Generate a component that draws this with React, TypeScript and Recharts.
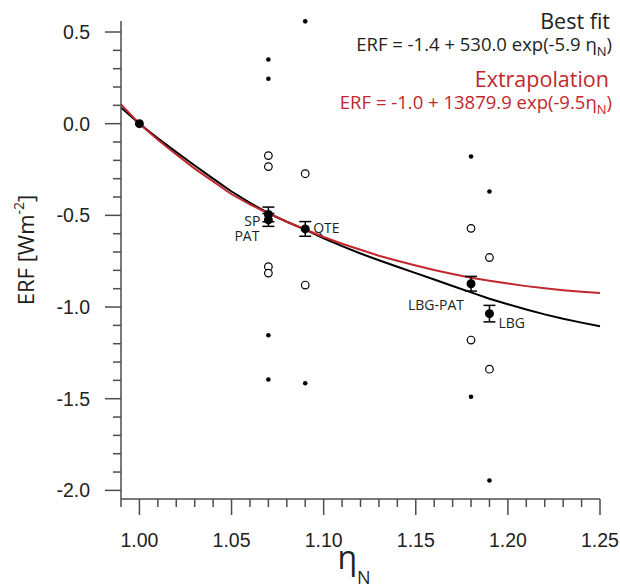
import React from "react";
import { ComposedChart, Line, Scatter, XAxis, YAxis, ErrorBar, Label } from "recharts";

// eta_N sample positions for the two fitted curves (also used as x ticks)
const etaGrid = [
  0.99, 1.0, 1.01, 1.02, 1.03, 1.04, 1.05, 1.06, 1.07, 1.08, 1.09, 1.1, 1.11, 1.12,
  1.13, 1.14, 1.15, 1.16, 1.17, 1.18, 1.19, 1.2, 1.21, 1.22, 1.23, 1.24, 1.25,
];
const bestFitErf = [
  0.088, 0.0, -0.08, -0.155, -0.228, -0.3, -0.37, -0.432, -0.488, -0.535, -0.578,
  -0.625, -0.668, -0.708, -0.745, -0.78, -0.815, -0.85, -0.885, -0.92, -0.955,
  -0.985, -1.013, -1.04, -1.064, -1.085, -1.105,
];
const extrapolationErf = [
  0.105, 0.0, -0.088, -0.168, -0.245, -0.315, -0.385, -0.44, -0.49, -0.535, -0.577,
  -0.618, -0.655, -0.688, -0.72, -0.748, -0.774, -0.798, -0.82, -0.84, -0.857,
  -0.872, -0.886, -0.898, -0.908, -0.917, -0.924,
];

// experiment means with error bars
const meanLabels = ["", "SP", "PAT", "QTE", "LBG-PAT", "LBG"];
const meanEta = [1.0, 1.07, 1.07, 1.09, 1.18, 1.19];
const meanErf = [0.0, -0.495, -0.525, -0.574, -0.873, -1.036];
const meanErr = [0, 0.04, 0.035, 0.04, 0.04, 0.045];

// open circles
const openEta = [1.07, 1.07, 1.07, 1.07, 1.09, 1.09, 1.18, 1.18, 1.19, 1.19];
const openErf = [-0.174, -0.234, -0.78, -0.815, -0.273, -0.88, -0.571, -1.18, -0.73, -1.339];

// small dots
const dotEta = [1.07, 1.07, 1.07, 1.07, 1.09, 1.09, 1.18, 1.18, 1.19, 1.19];
const dotErf = [0.35, 0.245, -1.154, -1.395, 0.558, -1.416, -0.179, -1.489, -0.37, -1.946];

const yTicks = [
  -2.0, -1.9, -1.8, -1.7, -1.6, -1.5, -1.4, -1.3, -1.2, -1.1, -1.0, -0.9, -0.8, -0.7,
  -0.6, -0.5, -0.4, -0.3, -0.2, -0.1, 0.0, 0.1, 0.2, 0.3, 0.4, 0.5,
];

const bestFit = etaGrid.map((x, i) => ({ x, y: bestFitErf[i] }));
const extrapolation = etaGrid.map((x, i) => ({ x, y: extrapolationErf[i] }));
const means = meanEta.map((x, i) => ({ x, y: meanErf[i], err: meanErr[i], name: meanLabels[i] }));
const openPts = openEta.map((x, i) => ({ x, y: openErf[i] }));
const dotPts = dotEta.map((x, i) => ({ x, y: dotErf[i] }));

const INK = "#231f20";
const RED = "#c1272d";
const AXIS = "#4d4d4d";
const sans = "'Open Sans', sans-serif";
const tickFont = "'Liberation Sans', Arial, sans-serif";

const isMajor = (v: number, step: number) => Math.abs(v / step - Math.round(v / step)) < 1e-6;

const XTick = (props: any) => {
  const { x, y, payload } = props;
  const major = isMajor(payload.value, 0.05);
  return (
    <g>
      <line x1={x} x2={x} y1={y} y2={y + (major ? 16 : 8)} stroke={AXIS} strokeWidth={1.5} />
      {major && (
        <text x={x} y={y + 48} textAnchor="middle" fontFamily={tickFont} fontSize={19.5} fill={INK}>
          {payload.value.toFixed(2)}
        </text>
      )}
    </g>
  );
};

const YTick = (props: any) => {
  const { x, y, payload } = props;
  const major = isMajor(payload.value, 0.5);
  return (
    <g>
      <line x1={x - (major ? 16 : 8)} x2={x} y1={y} y2={y} stroke={AXIS} strokeWidth={1.5} />
      {major && (
        <text x={x - 31} y={y + 7} textAnchor="end" fontFamily={tickFont} fontSize={19.5} fill={INK}>
          {payload.value.toFixed(1)}
        </text>
      )}
    </g>
  );
};

// where each experiment name sits relative to its marker
const labelPlacement: Record<string, { dx: number; dy: number; anchor: string }> = {
  SP: { dx: -8, dy: 12, anchor: "end" },
  PAT: { dx: -9, dy: 21, anchor: "end" },
  QTE: { dx: 8, dy: 4, anchor: "start" },
  "LBG-PAT": { dx: -7, dy: 26, anchor: "end" },
  LBG: { dx: 9, dy: 14, anchor: "start" },
};

const MeanShape = (props: any) => {
  const { cx, cy, payload } = props;
  const place = labelPlacement[payload.name];
  return (
    <g>
      <circle cx={cx} cy={cy} r={4.5} fill="#000" />
      {place && (
        <text
          x={cx + place.dx}
          y={cy + place.dy}
          textAnchor={place.anchor as any}
          fontFamily={sans}
          fontSize={14}
          fill={INK}
        >
          {payload.name}
        </text>
      )}
    </g>
  );
};

const OpenShape = (props: any) => (
  <circle cx={props.cx} cy={props.cy} r={3.8} fill="#fff" stroke="#000" strokeWidth={1.2} />
);

const DotShape = (props: any) => <circle cx={props.cx} cy={props.cy} r={2.3} fill="#000" />;

const YTitle = () => (
  <text
    transform="translate(34,250) rotate(-90)"
    textAnchor="middle"
    fontFamily={sans}
    fontSize={22}
    fill={INK}
  >
    ERF [Wm
    <tspan dy={-10} fontSize={14}>
      -2
    </tspan>
    <tspan dy={10}>]</tspan>
  </text>
);

const XTitle = () => (
  <text x={354} y={569} textAnchor="middle" fontFamily={sans} fontSize={32} fill={INK}>
    η
    <tspan dy={15} fontSize={18}>
      N
    </tspan>
  </text>
);

export default function App() {
  return (
    <div style={{ position: "absolute", left: 0, top: 0, width: 620, height: 588, background: "#fff" }}>
      <ComposedChart width={620} height={588} margin={{ top: 21, right: 20, left: 0, bottom: 0 }}>
        <XAxis
          dataKey="x"
          type="number"
          domain={[0.99, 1.25]}
          ticks={etaGrid}
          interval={0}
          tickSize={0}
          tickMargin={0}
          tick={<XTick />}
          tickLine={false}
          axisLine={{ stroke: AXIS, strokeWidth: 1.5 }}
          height={89}
        >
          <Label content={<XTitle />} />
        </XAxis>
        <YAxis
          dataKey="y"
          type="number"
          domain={[-2.047, 0.56]}
          ticks={yTicks}
          interval={0}
          tickSize={0}
          tickMargin={0}
          tick={<YTick />}
          tickLine={false}
          axisLine={{ stroke: AXIS, strokeWidth: 1.5 }}
          width={121}
        >
          <Label content={<YTitle />} />
        </YAxis>
        <Line
          data={bestFit}
          dataKey="y"
          type="linear"
          stroke="#000"
          strokeWidth={2}
          dot={false}
          isAnimationActive={false}
        />
        <Line
          data={extrapolation}
          dataKey="y"
          type="linear"
          stroke={RED}
          strokeWidth={2}
          dot={false}
          isAnimationActive={false}
        />
        <Scatter data={openPts} dataKey="y" shape={<OpenShape />} isAnimationActive={false} />
        <Scatter data={dotPts} dataKey="y" shape={<DotShape />} isAnimationActive={false} />
        <Scatter data={means} dataKey="y" shape={<MeanShape />} isAnimationActive={false}>
          <ErrorBar dataKey="err" direction="y" width={6} stroke="#000" strokeWidth={1.5} />
        </Scatter>
      </ComposedChart>
      <svg
        width={620}
        height={130}
        style={{ position: "absolute", left: 0, top: 0, pointerEvents: "none" }}
      >
        <g fontFamily={sans} textAnchor="end">
          <text x={610} y={29} fontSize={21.5} fill={INK}>
            Best fit
          </text>
          <text x={612} y={51} fontSize={18.5} fill={INK}>
            ERF = -1.4 + 530.0 exp(-5.9 η
            <tspan dy={5} fontSize={13}>
              N
            </tspan>
            <tspan dy={-5}>)</tspan>
          </text>
          <text x={609} y={87} fontSize={21.5} fill={RED}>
            Extrapolation
          </text>
          <text x={612} y={109} fontSize={18.5} fill={RED}>
            ERF = -1.0 + 13879.9 exp(-9.5η
            <tspan dy={5} fontSize={13}>
              N
            </tspan>
            <tspan dy={-5}>)</tspan>
          </text>
        </g>
      </svg>
    </div>
  );
}
